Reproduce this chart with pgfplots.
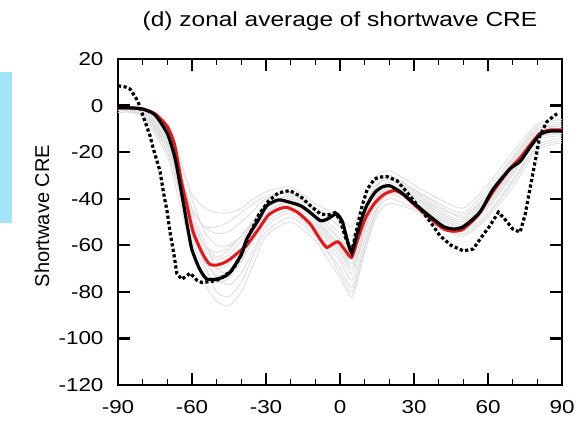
\documentclass[border=0pt]{standalone}
\usepackage{fontspec}
\setmainfont{Liberation Sans}[FakeStretch=1.2]
\newfontfamily\plainfont{Liberation Sans}
\usepackage{pgfplots}
\usepackage{pgfplotstable}
\pgfplotsset{compat=1.18}
\definecolor{clrRed}{HTML}{E2181C}
\definecolor{clrGray}{HTML}{DEDEDE}
\definecolor{clrCyan}{HTML}{A4E4FA}

% individual model curves (light gray)
\pgfplotstableread{
lat  g1  g2  g3  g4  g5  g6  g7  g8  g9  g10 g11 g12 g13 g14
-90  -1  -1  -2  -2  -1  -2  -1  -2  -1  -3  -1  -2  -1  -2
-80  -2  -2  -3  -4  -3  -5  -2  -3  -2  -4  -2  -3  -3  -4
-70  -12 -15 -18 -20 -14 -22 -10 -16 -12 -18 -13 -17 -15 -20
-65  -25 -30 -35 -38 -30 -42 -22 -32 -27 -34 -28 -34 -30 -36
-60  -38 -45 -52 -58 -50 -62 -40 -50 -46 -54 -44 -55 -48 -55
-55  -44 -52 -62 -70 -65 -76 -54 -60 -58 -68 -52 -66 -60 -67
-50  -46 -55 -66 -76 -74 -84 -60 -63 -70 -80 -52 -70 -65 -73
-45  -46 -54 -64 -74 -77 -86 -60 -61 -72 -82 -50 -68 -62 -71
-40  -44 -50 -58 -66 -72 -80 -56 -56 -67 -76 -46 -61 -56 -64
-35  -40 -45 -50 -56 -62 -68 -50 -50 -58 -64 -42 -53 -49 -55
-30  -37 -40 -44 -47 -52 -56 -44 -45 -50 -54 -39 -46 -43 -48
-20  -35 -37 -40 -43 -46 -50 -38 -42 -45 -48 -38 -41 -39 -44
-10  -42 -45 -48 -52 -55 -58 -46 -50 -53 -56 -44 -49 -47 -51
-5   -45 -50 -54 -58 -62 -66 -52 -56 -60 -63 -48 -55 -52 -57
0    -48 -55 -60 -65 -70 -74 -58 -62 -67 -72 -52 -61 -57 -63
5    -52 -60 -66 -72 -78 -82 -64 -70 -75 -80 -56 -68 -62 -70
10   -40 -45 -50 -55 -60 -63 -48 -54 -58 -62 -44 -52 -47 -53
15   -30 -34 -37 -40 -44 -47 -35 -40 -42 -45 -32 -38 -34 -39
20   -28 -31 -33 -36 -38 -42 -30 -35 -37 -40 -30 -34 -32 -35
30   -34 -37 -38 -40 -42 -45 -36 -39 -41 -44 -36 -39 -37 -40
40   -40 -44 -46 -48 -50 -52 -42 -47 -49 -51 -43 -46 -45 -48
50   -44 -47 -50 -52 -54 -56 -46 -51 -53 -55 -48 -50 -49 -52
60   -34 -38 -40 -43 -46 -48 -36 -42 -44 -47 -38 -41 -39 -42
70   -20 -24 -26 -29 -32 -35 -22 -28 -30 -33 -23 -27 -25 -28
80   -8  -10 -12 -14 -17 -19 -9  -13 -15 -18 -10 -12 -11 -14
90   -6  -8  -10 -12 -14 -16 -7  -11 -13 -15 -9  -10 -9  -12
}\grays

\begin{document}
\begin{tikzpicture}
\useasboundingbox (-118pt,-42pt) rectangle (465pt,385pt);
\fill[clrCyan] (-118pt,162pt) rectangle (-106pt,313pt);
\begin{axis}[
  at={(0,0)}, anchor=south west,
  scale only axis, width=444pt, height=326pt,
  xmin=-90, xmax=90, ymin=-120, ymax=20,
  xtick={-90,-60,-30,0,30,60,90},
  ytick={-120,-100,-80,-60,-40,-20,0,20},
  major tick length=0pt, minor tick length=0pt,
  axis line style={line width=2.4pt},
  /pgf/number format/assume math mode=true,
  tick label style={font=\fontsize{18.7}{20}\selectfont},
  yticklabel style={xshift=-11pt},
  xticklabel style={yshift=-12pt},
  title={(d) zonal average of shortwave CRE},
  title style={at={(0.5,1)}, anchor=base, yshift=26pt,
    font=\fontsize{20.4}{22}\selectfont},
  ylabel={Shortwave CRE},
  ylabel style={at={(rel axis cs:0,0.518)}, anchor=center,
    yshift=76pt, font=\plainfont\fontsize{20}{22}\selectfont},
]
\pgfplotsinvokeforeach{g1,g2,g3,g4,g5,g6,g7,g8,g9,g10,g11,g12,g13,g14}{
  \addplot[clrGray, line width=0.9pt, smooth, tension=0.4]
    table[x=lat, y=#1] {\grays};
}
% multi-model mean (red)
\addplot[clrRed, line width=3pt, smooth, tension=0.4] coordinates {
  (-90,-1)(-85,-1)(-80,-1.5)(-75,-3.5)(-70,-9)(-67,-17)(-64.2,-33)
  (-62,-43)(-59.5,-54.4)(-56,-63)(-53,-68)(-50,-68.5)(-47,-67.5)
  (-44.6,-66)(-40,-62)(-37.8,-60)(-33,-53)(-29,-47)(-25,-44.5)
  (-21.6,-43.7)(-17,-46)(-12,-51)(-8,-57.5)(-5.4,-60.9)(-3,-59.5)
  (-0.7,-58.5)(2,-62)(4.7,-65.2)(7,-58)(9,-52)(10.8,-47.3)(14,-42)
  (18,-38)(22.3,-36.5)(26,-38.5)(30,-42.5)(37.8,-49.5)(42,-53)
  (46,-54)(50,-53)(56,-47)(62,-37)(69,-27)(73,-22.5)(77,-17)
  (81,-12)(85,-10.5)(90,-10.5)};
% black solid
\addplot[black, line width=3.2pt, smooth, tension=0.4] coordinates {
  (-90,-1)(-85,-1)(-80,-1.5)(-75,-4)(-70,-12)(-67,-22)(-65,-33)
  (-63,-45)(-61.5,-54)(-60,-62)(-57,-70)(-54,-74.5)(-50,-74.5)
  (-47,-73.5)(-44.6,-71.7)(-40,-64)(-37.8,-57.3)(-33,-49)(-29.7,-43)
  (-25,-40.5)(-20.5,-41.5)(-16,-43)(-12,-46)(-8,-49.4)(-5,-48.7)
  (-1.4,-46.5)(1,-50)(3,-58)(4.7,-63)(7,-55)(9,-48)(10.8,-43)
  (14,-37.5)(17,-35)(20.3,-34.5)(25,-37.5)(30,-42)(37.8,-48.7)
  (42,-52)(46,-53)(50,-52)(56.7,-45.8)(62,-36)(68.9,-27.2)(73,-24)
  (77,-18)(81,-12.5)(85,-11)(90,-11)};
% black dotted
\addplot[black, line width=3.2pt, dash pattern=on 3.2pt off 2.4pt] coordinates {
  (-90,8.5)(-87,8)(-85,7)(-82,2)(-80,-4)(-77,-13)(-75.7,-18.5)(-73,-28)
  (-71.6,-37)(-70,-46)(-68.9,-54.4)(-67,-66)(-66.2,-72)(-64.2,-74.6)
  (-62,-73)(-60.8,-72)(-58,-75)(-56,-76)(-52,-75.5)(-48.7,-74.6)
  (-43.3,-70.3)(-40,-64)(-37,-56)(-33,-47)(-29,-41)(-25,-37.5)
  (-20.3,-36.5)(-16,-39)(-12,-43)(-8,-46.5)(-5,-47)(-2,-46)(0,-49)
  (2,-56)(4.7,-63)(7,-52)(9,-43)(11,-36)(14,-31.5)(16.2,-30.7)
  (19,-30.5)(23,-32.2)(27,-37)(33,-45)(37,-50.5)(40.5,-55.9)(45,-60)
  (50,-62.4)(54,-61.6)(57,-57)(60.8,-51.6)(64.2,-45.8)(67,-49)(70,-53)
  (73,-54.4)(75,-47)(78.4,-28)(81,-13)(83.8,-7)(87,-4.2)(88,-3.5)};
\end{axis}
% inward tick marks on the frame (frame is 444pt x 326pt from the origin)
\foreach \t in {-60,-30,0,30,60} {
  \draw[black, line width=2.2pt] ({(\t+90)/180*444pt},0pt) -- ++(0pt,12pt);
  \draw[black, line width=2.2pt] ({(\t+90)/180*444pt},326pt) -- ++(0pt,-12pt);
}
\foreach \t in {-80,-70,-50,-40,-20,-10,10,20,40,50,70,80} {
  \draw[black, line width=1.4pt] ({(\t+90)/180*444pt},0pt) -- ++(0pt,6pt);
  \draw[black, line width=1.4pt] ({(\t+90)/180*444pt},326pt) -- ++(0pt,-6pt);
}
\foreach \v in {-100,-80,-60,-40,-20,0} {
  \draw[black, line width=2.2pt] (0pt,{(\v+120)/140*326pt}) -- ++(12pt,0pt);
  \draw[black, line width=2.2pt] (444pt,{(\v+120)/140*326pt}) -- ++(-12pt,0pt);
}
\end{tikzpicture}
\end{document}
